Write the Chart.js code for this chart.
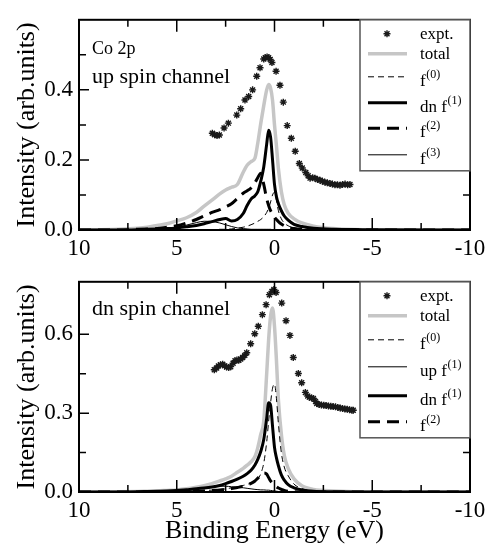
<!DOCTYPE html>
<html>
<head>
<meta charset="utf-8">
<script src="https://cdn.jsdelivr.net/npm/chart.js@4.4.1/dist/chart.umd.min.js"></script>
<style>
  body { margin: 0; background: #fff; }
  #wrap { position: relative; width: 496px; height: 550px; }
  canvas { position: absolute; left: 0; }
  #up { top: 0; }
  #dn { top: 262px; }
</style>
</head>
<body>
<div id="wrap">
  <canvas id="up" width="496" height="262"></canvas>
  <canvas id="dn" width="496" height="288"></canvas>
</div>
<script>
// binding energy grid (eV) shared by the model curves
const energy = [10, 8, 7, 6.5, 6, 5.5, 5, 4.5, 4, 3.6, 3.2, 2.8, 2.5, 2.2, 1.9, 1.6, 1.4, 1.2, 1.0, 0.85,
  0.7, 0.55, 0.4, 0.3, 0.2, 0.1, 0, -0.1, -0.2, -0.35, -0.5, -0.7, -1.0, -1.4, -2.0, -3.0, -4.5, -10];

// up spin channel
const upTotal = [0, .002, .005, .008, .013, .018, .026, .035, .05, .068, .085, .103, .114, .122, .13, .165, .185, .195, .205, .25,
  .305, .355, .40, .415, .405, .37, .30, .24, .175, .11, .072, .048, .032, .02, .011, .004, .001, 0];
const upF0 = [0, 0, 0, 0, 0, 0, 0, 0, .001, .001, .001, .002, .002, .003, .005, .008, .011, .015, .02, .025,
  .03, .038, .05, .062, .08, .1, .108, .085, .055, .032, .02, .012, .006, .003, .001, 0, 0, 0];
const upDnF1 = [0, 0, .001, .002, .003, .004, .006, .009, .013, .018, .024, .03, .033, .026, .03, .047, .07, .088, .098, .11,
  .14, .18, .245, .285, .265, .2, .13, .095, .075, .055, .04, .028, .016, .01, .005, .002, .001, 0];
const upF2 = [0, 0, .002, .003, .004, .008, .012, .02, .03, .04, .05, .058, .066, .075, .09, .105, .112, .12, .135, .15,
  .162, .13, .09, .07, .055, .045, .037, .03, .024, .017, .012, .007, .004, .002, .001, 0, 0, 0];
const upF3 = [0, 0, .001, .001, .002, .004, .008, .014, .021, .025, .024, .02, .015, .01, .006, .004, .003, .002, .002, .002,
  .002, .002, .002, .002, .002, .001, .001, .001, .001, .001, .001, 0, 0, 0, 0, 0, 0, 0];
const upExptE = [3.18, 3.06, 2.94, 2.82, 2.58, 2.36, 1.93, 1.73, 1.51, 1.32, 1.12, 0.91, 0.74, 0.55, 0.47, 0.38, 0.30, 0.22, 0.13, -0.08,
  -0.28, -0.45, -0.65, -0.86, -1.06, -1.27, -1.42, -1.60, -1.72, -1.82, -1.95, -2.07, -2.20, -2.33, -2.45, -2.58, -2.70, -2.84, -2.96, -3.09,
  -3.22, -3.35, -3.48, -3.61, -3.74, -3.86];
const upExptI = [.276, .272, .270, .271, .291, .305, .328, .346, .371, .381, .400, .439, .463, .488, .492, .494, .492, .487, .478, .453,
  .413, .365, .298, .262, .225, .190, .177, .164, .155, .148, .149, .148, .144, .142, .139, .136, .135, .133, .131, .129,
  .129, .128, .130, .131, .129, .130];

// dn spin channel
const dnTotal = [0, .001, .002, .003, .004, .006, .008, .012, .018, .024, .032, .042, .05, .06, .075, .09, .102, .115, .135, .17,
  .22, .27, .45, .58, .67, .70, .63, .50, .35, .22, .14, .09, .05, .024, .01, .004, .001, 0];
const dnF0 = [0, 0, 0, 0, 0, 0, .002, .003, .004, .006, .007, .009, .012, .016, .02, .025, .029, .034, .041, .05,
  .07, .11, .19, .27, .34, .395, .41, .355, .26, .15, .095, .062, .03, .013, .005, .002, 0, 0];
const dnUpF1 = [0, 0, 0, .001, .002, .003, .005, .008, .012, .016, .02, .022, .022, .02, .018, .016, .014, .012, .01, .009,
  .008, .008, .007, .007, .006, .005, .004, .003, .002, .002, .001, .001, 0, 0, 0, 0, 0, 0];
const dnDnF1 = [0, 0, .001, .002, .003, .004, .006, .009, .012, .015, .019, .025, .032, .04, .049, .06, .07, .083, .103, .125,
  .155, .2, .28, .34, .33, .25, .17, .13, .1, .065, .045, .028, .016, .008, .003, .001, 0, 0];
const dnF2 = [0, 0, 0, 0, .001, .001, .002, .002, .003, .004, .006, .008, .01, .013, .017, .022, .027, .033, .042, .053,
  .063, .072, .068, .055, .042, .033, .026, .02, .015, .01, .006, .003, .001, 0, 0, 0, 0, 0];
const dnExptE = [3.08, 2.96, 2.87, 2.76, 2.65, 2.55, 2.45, 2.34, 2.24, 2.12, 2.02, 1.92, 1.83, 1.73, 1.63, 1.52, 1.42, 1.22, 1.01, 0.83,
  0.62, 0.43, 0.26, 0.13, 0.03, -0.08, -0.37, -0.59, -0.79, -0.96, -1.22, -1.39, -1.58, -1.70, -1.78, -1.90, -1.99, -2.10, -2.16, -2.28,
  -2.40, -2.52, -2.64, -2.76, -2.88, -3.00, -3.12, -3.24, -3.36, -3.48, -3.60, -3.72, -3.84, -3.96, -4.03];
const dnExptI = [.465, .472, .480, .484, .486, .480, .476, .474, .477, .490, .500, .502, .501, .506, .512, .520, .530, .564, .602, .631,
  .675, .713, .751, .763, .771, .759, .719, .652, .596, .512, .451, .416, .379, .365, .361, .358, .356, .345, .337, .333,
  .331, .330, .329, .327, .326, .325, .324, .322, .320, .318, .316, .315, .313, .311, .311];

const FONT = 'Liberation Serif';

function pts(xs, ys) {
  return xs.map((x, i) => ({ x: x, y: ys[i] }));
}

function expt(xs, ys) {
  return { label: 'expt.', data: pts(xs, ys), showLine: false, pointStyle: 'star', pointRadius: 3.5,
    pointBorderWidth: 1.4, borderColor: '#1a1a1a', backgroundColor: '#1a1a1a', order: 0 };
}

function curve(label, ys, color, width, dash, order) {
  return { label: label, data: pts(energy, ys), borderColor: color, borderWidth: width, borderDash: dash,
    pointRadius: 0, fill: false, cubicInterpolationMode: 'monotone', order: order };
}

function asterisk(ctx, x, y, r) {
  ctx.beginPath();
  for (let k = 0; k < 4; k++) {
    const a = k * Math.PI / 4;
    ctx.moveTo(x - r * Math.cos(a), y - r * Math.sin(a));
    ctx.lineTo(x + r * Math.cos(a), y + r * Math.sin(a));
  }
  ctx.stroke();
}

// frame with inward ticks, legend box with superscripts, text notes
function panelPlugin(rowY, boxH, notes) {
  return {
    id: 'panel',
    afterDatasetsDraw(chart) {
      const { ctx, chartArea: a, scales: { x, y } } = chart;
      ctx.save();
      ctx.strokeStyle = '#000';
      ctx.lineWidth = 1.5;
      ctx.beginPath();
      x.ticks.forEach(t => {
        const px = x.getPixelForValue(t.value);
        const len = Math.abs(t.value % 5) < 1e-6 ? 12 : 7;
        ctx.moveTo(px, a.bottom); ctx.lineTo(px, a.bottom - len);
        ctx.moveTo(px, a.top); ctx.lineTo(px, a.top + len);
      });
      y.ticks.forEach((t, i) => {
        if (t.value <= 0 || t.value >= y.max - 1e-9) return;
        const py = y.getPixelForValue(t.value);
        const len = i % 2 === 0 ? 10 : 7;
        ctx.moveTo(a.left, py); ctx.lineTo(a.left + len, py);
        ctx.moveTo(a.right, py); ctx.lineTo(a.right - len, py);
      });
      ctx.stroke();
      ctx.lineWidth = 2;
      ctx.strokeRect(a.left, a.top, a.right - a.left, a.bottom - a.top);

      // legend
      const lx = a.right - 110;
      ctx.fillStyle = '#fff';
      ctx.fillRect(lx, a.top, a.right - lx, boxH);
      ctx.strokeStyle = '#555';
      ctx.lineWidth = 1.5;
      ctx.strokeRect(lx, a.top, a.right - lx, boxH);
      chart.data.datasets.forEach((d, i) => {
        const yy = a.top + rowY[i];
        if (d.showLine === false) {
          ctx.strokeStyle = d.borderColor;
          ctx.lineWidth = 1.4;
          asterisk(ctx, lx + 27, yy, 3.5);
        } else {
          ctx.strokeStyle = d.borderColor;
          ctx.lineWidth = d.borderWidth;
          ctx.setLineDash(d.borderDash || []);
          ctx.beginPath();
          ctx.moveTo(lx + 8, yy); ctx.lineTo(lx + 47, yy);
          ctx.stroke();
          ctx.setLineDash([]);
        }
        const parts = d.label.split('^');
        const by = yy + (parts[1] ? 9 : 5);
        ctx.fillStyle = '#000';
        ctx.textAlign = 'left';
        ctx.textBaseline = 'alphabetic';
        ctx.font = '17px "' + FONT + '"';
        ctx.fillText(parts[0], lx + 60, by);
        if (parts[1]) {
          const w = ctx.measureText(parts[0]).width;
          ctx.font = '12px "' + FONT + '"';
          ctx.fillText(parts[1], lx + 60 + w + 0.5, by - 8);
        }
      });

      notes.forEach(n => {
        ctx.fillStyle = '#000';
        ctx.font = n.size + 'px "' + FONT + '"';
        ctx.textAlign = 'left';
        ctx.textBaseline = 'alphabetic';
        ctx.fillText(n.text, a.left + 13, a.top + n.dy);
      });
      ctx.restore();
    }
  };
}

function makePanel(id, datasets, yMax, yStep, xH, padTop, showXTitle, rowY, boxH, notes) {
  const tickFont = { family: FONT, size: 23 };
  return new Chart(document.getElementById(id).getContext('2d'), {
    type: 'line',
    data: { datasets: datasets },
    options: {
      responsive: false,
      devicePixelRatio: 1,
      animation: false,
      events: [],
      layout: { padding: { top: padTop, right: 26, left: 0, bottom: 0 } },
      plugins: { legend: { display: false }, tooltip: { enabled: false } },
      scales: {
        x: {
          type: 'linear', reverse: true, min: -10, max: 10,
          afterFit: s => { s.height = xH; },
          grid: { display: false, drawTicks: false },
          border: { display: false },
          ticks: { stepSize: 2.5, autoSkip: false, maxRotation: 0, padding: 5, color: '#000', font: tickFont,
            callback: v => Math.abs(v % 5) < 1e-6 ? String(v) : '' },
          title: { display: showXTitle, text: 'Binding Energy (eV)', color: '#000',
            font: { family: FONT, size: 26, lineHeight: 1 }, padding: { top: 0, bottom: 6 } }
        },
        y: {
          type: 'linear', min: 0, max: yMax,
          afterFit: s => { s.width = 79; },
          grid: { display: false, drawTicks: false },
          border: { display: false },
          ticks: { stepSize: yStep, padding: 6, color: '#000', font: tickFont,
            callback: (v, i) => (i % 2 === 0 && v < yMax - 1e-9) ? v.toFixed(1) : '' },
          title: { display: true, text: 'Intensity (arb.units)', color: '#000',
            font: { family: FONT, size: 26, lineHeight: 1 }, padding: { top: 14, bottom: 0 } }
        }
      }
    },
    plugins: [panelPlugin(rowY, boxH, notes)]
  });
}

makePanel('up', [
  expt(upExptE, upExptI),
  curve('total', upTotal, '#c6c6c6', 3.5, [], 10),
  curve('f^(0)', upF0, '#000', 1, [6, 4], 5),
  curve('dn f^(1)', upDnF1, '#000', 3, [], 1),
  curve('f^(2)', upF2, '#000', 3, [12, 7], 2),
  curve('f^(3)', upF3, '#000', 1, [], 4)
], 0.6, 0.1, 32, 3, false, [14, 34, 57, 83, 108.5, 135], 151,
  [{ text: 'Co 2p', size: 18, dy: 34 }, { text: 'up spin channel', size: 22, dy: 63 }]);

makePanel('dn', [
  expt(dnExptE, dnExptI),
  curve('total', dnTotal, '#c6c6c6', 3.5, [], 10),
  curve('f^(0)', dnF0, '#000', 1, [6, 4], 5),
  curve('up f^(1)', dnUpF1, '#000', 1, [], 4),
  curve('dn f^(1)', dnDnF1, '#000', 3, [], 1),
  curve('f^(2)', dnF2, '#000', 3, [12, 7], 2)
], 0.8, 0.15, 58, 1, true, [14, 34, 58, 85, 114, 140], 156,
  [{ text: 'dn spin channel', size: 22, dy: 33 }]);
</script>
</body>
</html>
